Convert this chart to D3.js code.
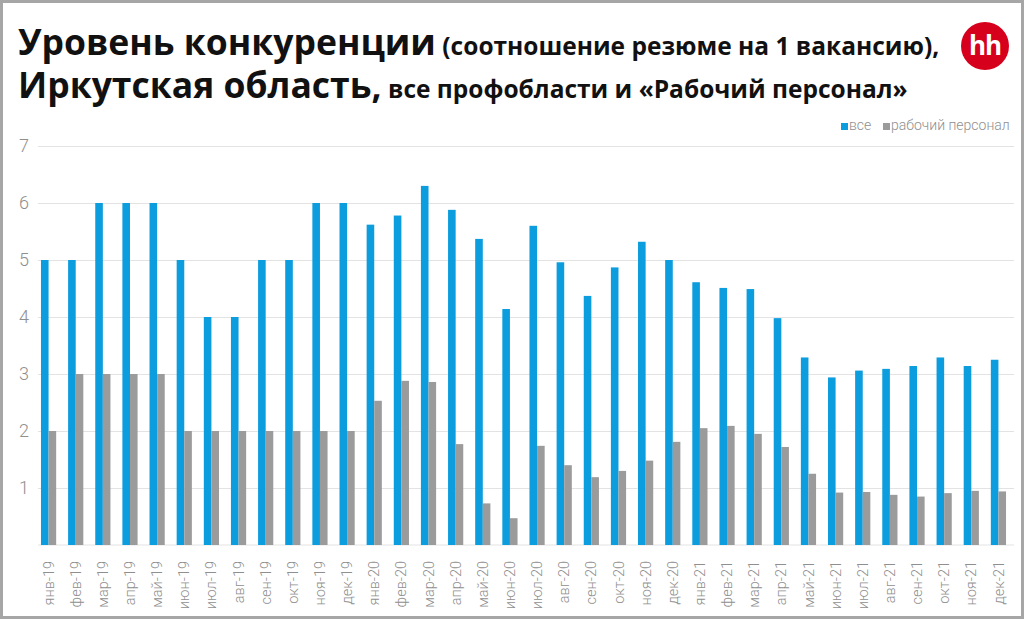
<!DOCTYPE html>
<html>
<head>
<meta charset="utf-8">
<script src="https://cdn.jsdelivr.net/npm/d3@7"></script>
<style>
  body { margin: 0; background: #fff; }
  svg { display: block; }
</style>
</head>
<body>
<div id="chart"></div>
<script>
var months = ['янв-19', 'фев-19', 'мар-19', 'апр-19', 'май-19', 'июн-19', 'июл-19', 'авг-19', 'сен-19', 'окт-19', 'ноя-19', 'дек-19',
  'янв-20', 'фев-20', 'мар-20', 'апр-20', 'май-20', 'июн-20', 'июл-20', 'авг-20', 'сен-20', 'окт-20', 'ноя-20', 'дек-20',
  'янв-21', 'фев-21', 'мар-21', 'апр-21', 'май-21', 'июн-21', 'июл-21', 'авг-21', 'сен-21', 'окт-21', 'ноя-21', 'дек-21']

var allValues = [5, 5, 6, 6, 6, 5, 4, 4, 5, 5, 6, 6,
  5.62, 5.78, 6.3, 5.88, 5.37, 4.14, 5.6, 4.96, 4.37, 4.87, 5.32, 5.0,
  4.61, 4.51, 4.49, 3.98, 3.29, 2.94, 3.06, 3.09, 3.14, 3.29, 3.14, 3.25]

var workerValues = [2, 3, 3, 3, 3, 2, 2, 2, 2, 2, 2, 2,
  2.53, 2.88, 2.86, 1.77, 0.73, 0.47, 1.74, 1.4, 1.19, 1.3, 1.48, 1.81,
  2.05, 2.09, 1.95, 1.72, 1.25, 0.92, 0.93, 0.88, 0.85, 0.91, 0.95, 0.94]

var seriesNames = ['все', 'рабочий персонал']
var yTicks = [1, 2, 3, 4, 5, 6, 7]

var width = 1024
var height = 619

var svg = d3.select('#chart')
  .append('svg')
  .attr('width', width)
  .attr('height', height)

// frame
svg.append('rect')
  .attr('x', 1.5)
  .attr('y', 1.5)
  .attr('width', width - 3)
  .attr('height', height - 3)
  .attr('fill', 'none')
  .attr('stroke', '#a6a6a6')
  .attr('stroke-width', 3)

// title
var title = svg.append('text')
  .attr('x', 18)
  .attr('y', 55)
  .attr('font-family', 'Open Sans')
  .attr('font-weight', 700)
  .attr('fill', '#111')
title.append('tspan').attr('font-size', 35.5).text('Уровень конкуренции')
title.append('tspan').attr('font-size', 24.5).text(' (соотношение резюме на 1 вакансию),')

var title2 = svg.append('text')
  .attr('x', 18)
  .attr('y', 98)
  .attr('font-family', 'Open Sans')
  .attr('font-weight', 700)
  .attr('fill', '#111')
title2.append('tspan').attr('font-size', 35.5).text('Иркутская область,')
title2.append('tspan').attr('font-size', 24.5).text(' все профобласти и «Рабочий персонал»')

// hh logo
var logo = svg.append('g').attr('transform', 'translate(985,46)')
logo.append('circle').attr('r', 24).attr('fill', '#d6001c')
logo.append('text')
  .attr('text-anchor', 'middle')
  .attr('y', 9)
  .attr('font-family', 'Open Sans')
  .attr('font-weight', 700)
  .attr('font-size', 26)
  .attr('letter-spacing', -1)
  .attr('fill', '#fff')
  .text('hh')

var x0 = d3.scaleBand()
  .domain(months)
  .range([35, 1012])
  .paddingInner(0.44)
  .paddingOuter(0.22)

var x1 = d3.scaleBand()
  .domain(seriesNames)
  .range([0, x0.bandwidth()])

var y = d3.scaleLinear()
  .domain([0, 7])
  .range([545, 146])

var colorScale = d3.scaleOrdinal()
  .domain(seriesNames)
  .range(['#0b9ddd', '#9b9b9b'])

// grid
var yAxis = d3.axisLeft(y)
  .tickValues(yTicks)
  .tickSize(-(1014 - 38))
  .tickFormat(d3.format('d'))

var gy = svg.append('g')
  .attr('transform', 'translate(38,0)')
  .call(yAxis)
gy.select('.domain').remove()
gy.selectAll('.tick line').attr('stroke', '#e3e3e3').attr('stroke-width', 1.2)
gy.selectAll('.tick text')
  .attr('x', -9)
  .attr('font-family', 'Roboto')
  .attr('font-weight', 300)
  .attr('font-size', 18)
  .attr('fill', '#8f8f8f')

svg.append('line')
  .attr('x1', 38)
  .attr('x2', 1014)
  .attr('y1', y(0))
  .attr('y2', y(0))
  .attr('stroke', '#e3e3e3')
  .attr('stroke-width', 1.2)

// bars
var rows = months.map(function(m, i) {
  return { month: m, values: [
    { key: 'все', value: allValues[i] },
    { key: 'рабочий персонал', value: workerValues[i] }
  ] }
})

svg.selectAll('.group')
  .data(rows)
  .enter()
  .append('g')
  .attr('class', 'group')
  .attr('transform', d => `translate(${x0(d.month)},0)`)
  .selectAll('rect')
  .data(d => d.values)
  .enter()
  .append('rect')
  .attr('x', d => x1(d.key))
  .attr('width', x1.bandwidth())
  .attr('y', d => y(d.value))
  .attr('height', d => y(0) - y(d.value))
  .attr('fill', d => colorScale(d.key))

// x labels
var xAxis = d3.axisBottom(x0).tickSize(0)
var gx = svg.append('g')
  .attr('transform', `translate(0,${y(0)})`)
  .call(xAxis)
gx.select('.domain').remove()
gx.selectAll('.tick text')
  .attr('transform', 'rotate(-90)')
  .attr('text-anchor', 'end')
  .attr('x', -16)
  .attr('y', 0)
  .attr('dy', '0.35em')
  .attr('font-family', 'Roboto')
  .attr('font-weight', 300)
  .attr('font-size', 14.5)
  .attr('fill', '#8f8f8f')

// legend
var legend = svg.append('g').attr('transform', 'translate(841,123)')
var legendX = [0, 42]
seriesNames.forEach(function(name, i) {
  var g = legend.append('g').attr('transform', `translate(${legendX[i]},0)`)
  g.append('rect')
    .attr('width', 7)
    .attr('height', 7)
    .attr('fill', colorScale(name))
  g.append('text')
    .attr('x', 8)
    .attr('y', 7)
    .attr('font-family', 'Roboto')
    .attr('font-weight', 300)
    .attr('font-size', 14)
    .attr('fill', '#8f8f8f')
    .text(name)
})
</script>
</body>
</html>
